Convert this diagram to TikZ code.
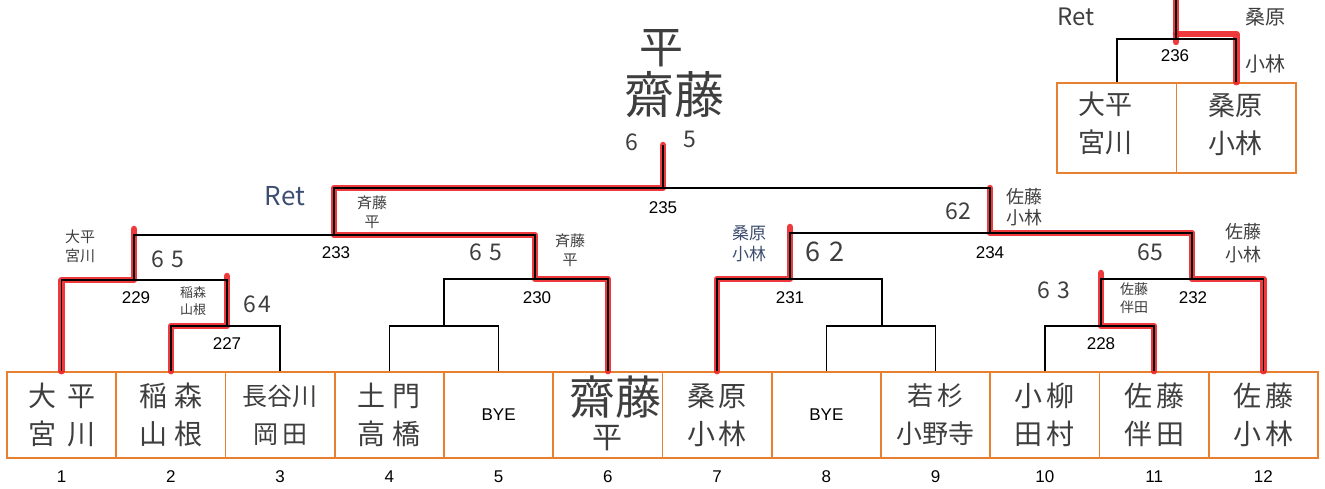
\documentclass[tikz,border=0pt]{standalone}
\usepackage{fontspec}
\usetikzlibrary{calc}
\newfontfamily\jp{Noto Sans CJK JP}
\setsansfont{Liberation Sans}
\definecolor{boxor}{RGB}{232,128,50}
\definecolor{hl}{RGB}{236,35,40}
\definecolor{ink}{RGB}{62,62,62}
\definecolor{blueink}{RGB}{62,78,112}
\begin{document}
\begin{tikzpicture}[x=1pt,y=-1pt,
 box/.style={draw=boxor,line width=1.6pt,minimum width=109.25pt,minimum height=86pt,inner sep=0pt},
 tbox/.style={draw=boxor,line width=1.6pt,minimum width=119.5pt,minimum height=90pt,inner sep=0pt},
 bk/.style={draw=black,line width=1.6pt},
 hlpath/.style={draw=hl,line width=6.5pt,line cap=round,line join=round,opacity=0.9},
 num/.style={font=\sffamily\fontsize{17}{17}\selectfont,inner sep=0pt},
 hand/.style={text=ink,font=\jp\fontsize{28}{38}\selectfont,align=center,inner sep=0pt},
 small/.style={text=ink,font=\jp\fontsize{15}{19}\selectfont,align=center,inner sep=0pt},
 score/.style={text=ink,font=\jp\fontsize{23}{23}\selectfont,inner sep=0pt}]
\useasboundingbox (0,0) rectangle (1325,489);
% boxes and numbers
\foreach \i in {1,...,12}{
  \node[box] (b\i) at ({7+109.25*(\i-0.5)},415) {};
  \node[num] (n\i) at ({7+109.25*(\i-0.5)},477) {\i};
}
\node[tbox] (t1) at (1116.75,128) {};
\node[tbox] (t2) at (1236.25,128) {};
% match junctions
\coordinate (m227) at (227,326);
\coordinate (m229) at (134,280);
\coordinate (m45) at (444,326);
\coordinate (m230) at (535,279);
\coordinate (m233) at (334,235);
\coordinate (m89) at (882,326);
\coordinate (m231) at (790,279);
\coordinate (m228) at (1101,326);
\coordinate (m232) at (1192,279);
\coordinate (m234) at (990,233);
\coordinate (m235) at (663,188);
\coordinate (top235) at (663,145);
\coordinate (m236) at (1176,39);
\coordinate (top236) at (1176,-5);
% red winner paths
\draw[hlpath] (b1.north) |- (m229) -- ($(m229 |- m233)+(0,-6)$);
\draw[hlpath] (b2.north) |- (m227) -- ($(m227 |- m229)+(0,-4)$);
\draw[hlpath] (b6.north) |- (m230) -- (m230 |- m233) -- (m233) -- (m233 |- m235) -- (m235) -- (top235);
\draw[hlpath] (b7.north) |- (m231) -- ($(m231 |- m234)+(0,-6)$);
\draw[hlpath] (b12.north) |- (m232) -- (m232 |- m234) -- (m234) -- (m234 |- m235);
\draw[hlpath] (b11.north) |- (m228) -- ($(m228 |- m232)+(0,-6)$);
\draw[hlpath] (top236) -- ($(m236)+(0,3)$);
\draw[hlpath] (m236 |- 0,34) -| (t2.north);
% black bracket
\draw[bk] (b2.north) |- (m227) -| (b3.north);
\draw[bk] (b1.north) |- (m229) -| (m227);
\draw[bk] (b4.north) |- (m45) -| (b5.north);
\draw[bk] (m45) |- (m230) -| (b6.north);
\draw[bk] (m229) |- (m233) -| (m230);
\draw[bk] (b8.north) |- (m89) -| (b9.north);
\draw[bk] (b7.north) |- (m231) -| (m89);
\draw[bk] (b10.north) |- (m228) -| (b11.north);
\draw[bk] (m228) |- (m232) -| (b12.north);
\draw[bk] (m231) |- (m234) -| (m232);
\draw[bk] (m233) |- (m235) -| (m234);
\draw[bk] (m235) -- (top235);
\draw[bk] (t1.north) |- (m236) -| (t2.north);
\draw[bk] (m236) -- (top236);
% match numbers
\node[num] (l227) at (227,344) {227};
\node[num] (l229) at (136,298) {229};
\node[num] (l230) at (537,298) {230};
\node[num] (l233) at (336,253) {233};
\node[num] (l231) at (790,298) {231};
\node[num] (l228) at (1101,344) {228};
\node[num] (l232) at (1193,298) {232};
\node[num] (l234) at (990,253) {234};
\node[num] (l235) at (663,208) {235};
\node[num] (l236) at (1175,56) {236};
% names in boxes
\node[hand] (p1) at (b1.center) {大\hspace{0.4em}平\\宮\hspace{0.4em}川};
\node[hand] (p2) at (b2.center) {稲\hspace{0.25em}森\\山\hspace{0.25em}根};
\node[hand,font=\jp\fontsize{25}{38}\selectfont] (p3) at (b3.center) {長谷川\\岡\hspace{0.15em}田};
\node[hand] (p4) at (b4.center) {土\hspace{0.25em}門\\高\hspace{0.25em}橋};
\node[num] (p5) at (b5.center) {BYE};
\node[hand,font=\jp\fontsize{46}{46}\selectfont] (p6a) at (615,397) {齋藤};
\node[hand,font=\jp\fontsize{30}{30}\selectfont] (p6b) at (607,438) {平};
\node[hand] (p7) at (b7.center) {桑\hspace{0.1em}原\\小\hspace{0.1em}林};
\node[num] (p8) at (b8.center) {BYE};
\node[hand,font=\jp\fontsize{26}{38}\selectfont] (p9) at (b9.center) {若\hspace{0.15em}杉\\小野寺};
\node[hand] (p10) at (b10.center) {小\hspace{0.15em}柳\\田\hspace{0.15em}村};
\node[hand] (p11) at (b11.center) {佐\hspace{0.15em}藤\\伴\hspace{0.15em}田};
\node[hand] (p12) at (b12.center) {佐\hspace{0.15em}藤\\小\hspace{0.15em}林};
\node[hand,font=\jp\fontsize{27}{38}\selectfont] (q1) at (1105,123) {大平\\宮川};
\node[hand,font=\jp\fontsize{27}{38}\selectfont] (q2) at (1235,125) {桑原\\小林};
% annotations
\node[small] (a1) at (80,246) {大平\\宮川};
\node[score] (s1) at (168,259) {6\hspace{0.3em}5};
\node[small,font=\jp\fontsize{13}{17}\selectfont] (a2) at (193,301) {稲森\\山根};
\node[score] (s2) at (257,304) {6\hspace{0.1em}4};
\node[small] (a3) at (372,212) {斉藤\\平};
\node[score] (s3) at (486,252) {6\hspace{0.3em}5};
\node[small] (a4) at (570,250) {斉藤\\平};
\node[small,text=blueink,font=\jp\fontsize{17}{21}\selectfont] (a5) at (749,244) {桑原\\小林};
\node[score,font=\jp\fontsize{27}{27}\selectfont] (s4) at (825,252) {6\hspace{0.3em}2};
\node[score] (s5) at (958,211) {62};
\node[small,font=\jp\fontsize{18}{21}\selectfont] (a6) at (1024,207) {佐藤\\小林};
\node[score] (s6) at (1150,252) {65};
\node[small,font=\jp\fontsize{18}{23}\selectfont] (a7) at (1243,243) {佐藤\\小林};
\node[score] (s7) at (1054,290) {6\hspace{0.3em}3};
\node[small,font=\jp\fontsize{14}{18}\selectfont] (a8) at (1134,298) {佐藤\\伴田};
\node[hand,font=\jp\fontsize{44}{44}\selectfont] (w1) at (661,48) {平};
\node[hand,font=\jp\fontsize{50}{50}\selectfont] (w2) at (674,95) {齋藤};
\node[score] (s8) at (632,142) {6};
\node[score] (s9) at (690,139) {5};
\node[score,text=blueink,font=\jp\fontsize{26}{26}\selectfont] (r1) at (285,196) {Ret};
\node[score,font=\jp\fontsize{24}{24}\selectfont] (r2) at (1076,17) {Ret};
\node[small,font=\jp\fontsize{20}{47}\selectfont] (a9) at (1265,41) {桑原\\小林};
\end{tikzpicture}
\end{document}
